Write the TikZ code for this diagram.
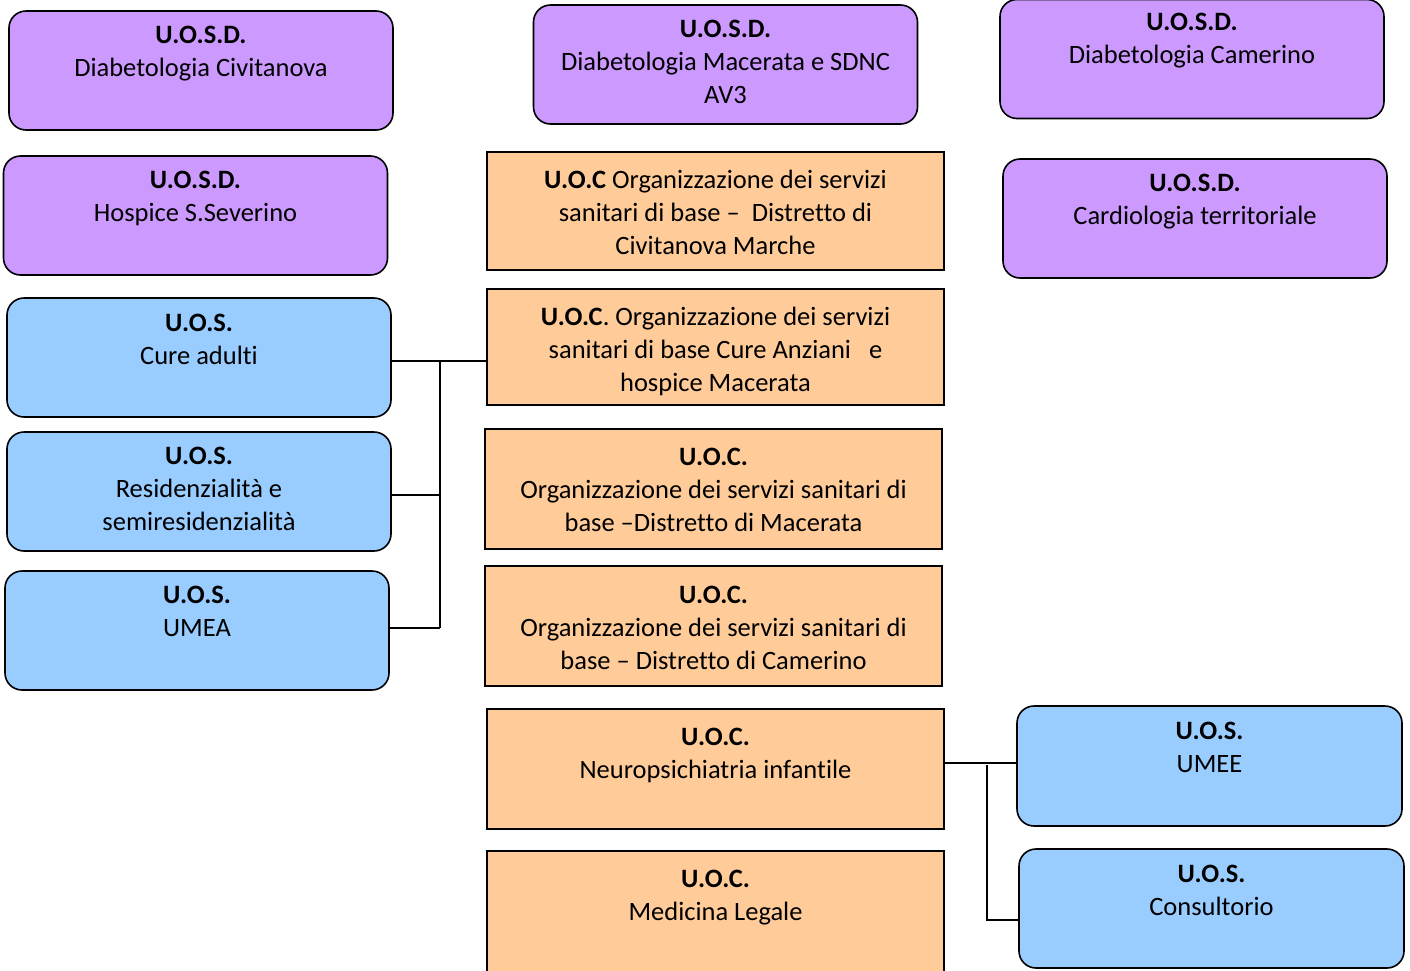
\documentclass[tikz,border=0pt]{standalone}
\usepackage{fontspec}
\setmainfont{Carlito}[Ligatures={NoCommon,NoRare}]
\definecolor{purp}{HTML}{CC99FF}
\definecolor{lblue}{HTML}{99CCFF}
\definecolor{peach}{HTML}{FFCC99}
\begin{document}
\begin{tikzpicture}[x=1pt,y=-1pt,
  rbox/.style={draw=black, line width=1.6pt, rounded corners=17pt, minimum width=384pt, minimum height=119pt, inner sep=0pt},
  pbox/.style={rbox, fill=purp},
  bbox/.style={rbox, fill=lblue},
  obox/.style={draw=black, line width=1.6pt, fill=peach, minimum width=457pt, minimum height=118pt, inner sep=0pt},
  txt/.style={anchor=north, inner sep=0pt, align=center, font=\fontsize{26.5}{33}\selectfont},
  conn/.style={draw=black, line width=1.6pt}
]
\clip (0,0) rectangle (1410,970);
\fill[white] (0,0) rectangle (1410,970);
% purple boxes
\node[pbox] (p1) at (201,70.5) {};
\node[pbox] (p2) at (725.5,64.5) {};
\node[pbox] (p3) at (1192,59) {};
\node[pbox] (p4) at (195.5,215.5) {};
\node[pbox] (p5) at (1195,218.5) {};
% left blue
\node[bbox] (b1) at (199,357.5) {};
\node[bbox] (b2) at (199,491.5) {};
\node[bbox] (b3) at (197,630.5) {};
% orange
\node[obox] (o1) at (715.5,211) {};
\node[obox, minimum height=116pt] (o2) at (715.5,347) {};
\node[obox, minimum height=120pt] (o3) at (713.5,489) {};
\node[obox, minimum height=120pt] (o4) at (713.5,626) {};
\node[obox, minimum height=120pt] (o5) at (715.5,769) {};
\node[obox, minimum height=140pt] (o6) at (715.5,921) {};
% right blue
\node[bbox, minimum width=385pt, minimum height=120pt] (b4) at (1209.5,766) {};
\node[bbox, minimum width=385pt] (b5) at (1211.5,908.5) {};
% texts
\newcommand{\st}{\rule{0pt}{23pt}}
\node[txt] (tp1) at ([yshift=-10pt]p1.north) {\st\textbf{U.O.S.D.}\\Diabetologia Civitanova};
\node[txt] (tp2) at ([yshift=-10pt]p2.north) {\st\textbf{U.O.S.D.}\\Diabetologia Macerata e SDNC\\AV3};
\node[txt] (tp3) at ([yshift=-9pt]p3.north) {\st\textbf{U.O.S.D.}\\Diabetologia Camerino};
\node[txt] (tp4) at ([yshift=-10pt]p4.north) {\st\textbf{U.O.S.D.}\\Hospice S.Severino};
\node[txt] (tp5) at ([yshift=-10pt]p5.north) {\st\textbf{U.O.S.D.}\\Cardiologia territoriale};
\node[txt] (tb1) at ([yshift=-11pt]b1.north) {\st\textbf{U.O.S.}\\Cure adulti};
\node[txt] (tb2) at ([yshift=-10pt]b2.north) {\st\textbf{U.O.S.}\\Residenzialità e\\semiresidenzialità};
\node[txt] (tb3) at ([yshift=-10pt]b3.north) {\st\textbf{U.O.S.}\\UMEA};
\node[txt] (to1) at ([yshift=-14pt]o1.north) {\st\textbf{U.O.C} Organizzazione dei servizi\\sanitari di base –\ \ Distretto di\\Civitanova Marche};
\node[txt] (to2) at ([yshift=-14pt]o2.north) {\st\textbf{U.O.C}. Organizzazione dei servizi\\sanitari di base Cure Anziani\ \ \ e\\hospice Macerata};
\node[txt] (to3) at ([yshift=-14pt]o3.north) {\st\textbf{U.O.C.}\\Organizzazione dei servizi sanitari di\\base –Distretto di Macerata};
\node[txt] (to4) at ([yshift=-15pt]o4.north) {\st\textbf{U.O.C.}\\Organizzazione dei servizi sanitari di\\base – Distretto di Camerino};
\node[txt] (to5) at ([yshift=-14pt]o5.north) {\st\textbf{U.O.C.}\\Neuropsichiatria infantile};
\node[txt] (to6) at ([yshift=-14pt]o6.north) {\st\textbf{U.O.C.}\\Medicina Legale};
\node[txt] (tb4) at ([yshift=-11pt]b4.north) {\st\textbf{U.O.S.}\\UMEE};
\node[txt] (tb5) at ([yshift=-11pt]b5.north) {\st\textbf{U.O.S.}\\Consultorio};
% left connectors
\coordinate (jl) at (440,361);
\coordinate (jl3) at (440,628);
\coordinate (e1) at ([yshift=-3.5pt]b1.east);
\coordinate (e2) at ([yshift=-3.5pt]b2.east);
\coordinate (e3) at ([yshift=2.5pt]b3.east);
\coordinate (w2) at ([yshift=-14pt]o2.west);
\draw[conn] (e1) -- (w2);
\draw[conn] (jl) -- (jl3);
\draw[conn] (e2) -- (jl |- e2);
\draw[conn] (e3) -- (jl3);
% right connectors
\coordinate (jr) at (987,765);
\coordinate (o5e) at ([yshift=6pt]o5.east);
\coordinate (b4w) at ([yshift=3pt]b4.west);
\coordinate (b5w) at ([yshift=-11.5pt]b5.west);
\draw[conn] (o5e) -- (b4w);
\draw[conn] (jr) |- (b5w);
\end{tikzpicture}
\end{document}
